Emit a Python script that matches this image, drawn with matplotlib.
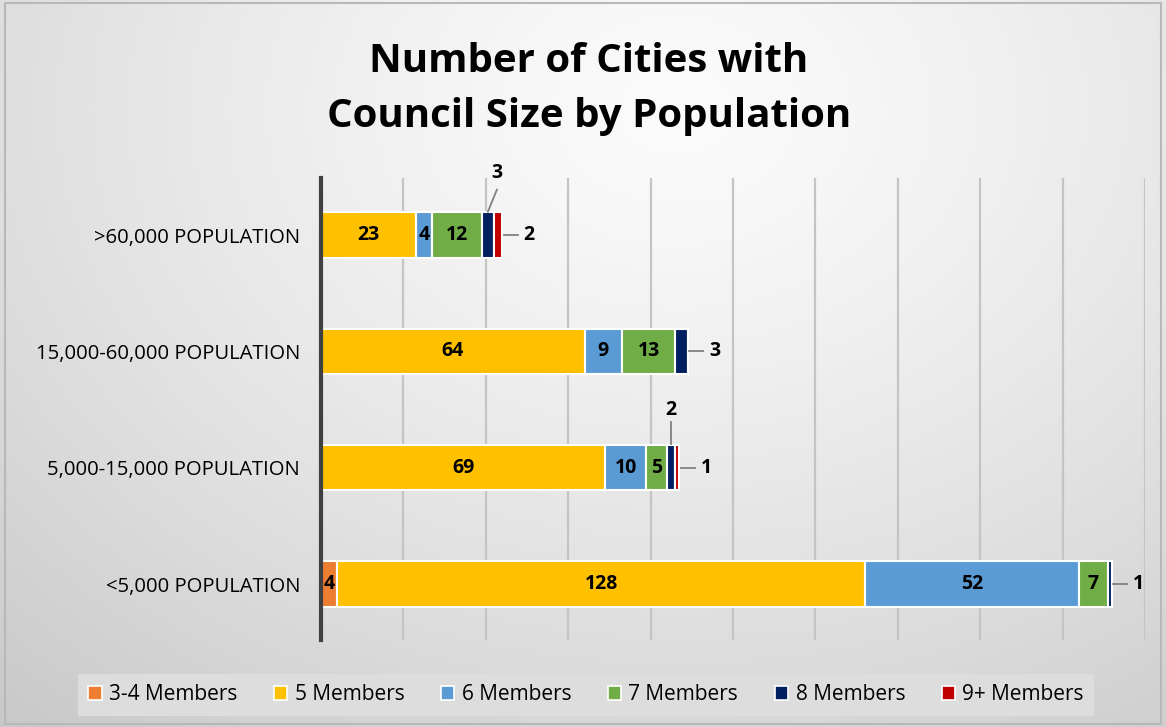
import numpy as np
import matplotlib
matplotlib.use("Agg")
import matplotlib.pyplot as plt

categories = [">60,000 POPULATION", "15,000-60,000 POPULATION", "5,000-15,000 POPULATION", "<5,000 POPULATION"]
series_names = ["3-4 Members", "5 Members", "6 Members", "7 Members", "8 Members", "9+ Members"]
m34 = [0, 0, 0, 4]
m5 = [23, 64, 69, 128]
m6 = [4, 9, 10, 52]
m7 = [12, 13, 5, 7]
m8 = [3, 3, 2, 1]
m9 = [2, 0, 1, 0]
colors = ["#ED7D31", "#FFC000", "#5B9BD5", "#70AD47", "#002060", "#C00000"]
title = "Number of Cities with\nCouncil Size by Population"

series = [m34, m5, m6, m7, m8, m9]

plt.rcParams['font.family'] = ['Open Sans', 'DejaVu Sans']

fig = plt.figure(figsize=(11.66, 7.27), dpi=100)

# background radial gradient
bg = fig.add_axes([0, 0, 1, 1], zorder=-10)
H, W = 727, 1166
yy, xx = np.mgrid[0:H, 0:W]
cx, cy = 0.58 * W, 0.15 * H
r = np.sqrt(((xx - cx) / W) ** 2 + ((yy - cy) / H * 0.8) ** 2)
r = r / r.max()
v = 0.985 - 0.2 * r ** 1.3
img = np.dstack([v, v, v])
bg.imshow(img, aspect='auto', extent=[0, 1, 0, 1], origin='upper')
bg.plot([0.004, 0.996, 0.996, 0.004, 0.004], [0.004, 0.004, 0.996, 0.996, 0.004], color="#b8b8b8", lw=1.5)
bg.set_xlim(0, 1); bg.set_ylim(0, 1)
bg.axis('off')

ax = fig.add_axes([321 / W, 1 - 640 / H, (1145 - 321) / W, (640 - 178) / H])
ax.set_facecolor('none')
y = np.arange(len(categories))
left = np.zeros(len(categories))
bars_all = []
for name, vals, c in zip(series_names, series, colors):
    vals = np.array(vals, dtype=float)
    ax.barh(y, vals, left=left, height=0.39, color=c, edgecolor='white', linewidth=1.5, label=name, zorder=3)
    bars_all.append((vals, left.copy()))
    left = left + vals

ax.set_xlim(0, 200)
ax.set_ylim(3.48, -0.49)
ax.set_xticks(np.arange(20, 201, 20))
ax.set_xticklabels([])
ax.tick_params(axis='x', length=0)
ax.grid(axis='x', color='#c4c4c4', lw=1.6, zorder=0)
ax.set_yticks(y)
ax.set_yticklabels(categories, fontsize=14.6)
ax.tick_params(axis='y', length=0, pad=15)
for s in ['top', 'right', 'bottom']:
    ax.spines[s].set_visible(False)
ax.spines['left'].set_color('#404040')
ax.spines['left'].set_linewidth(3)
ax.spines['left'].set_zorder(5)

lab_kw = dict(fontsize=14, fontweight='bold', color='black', zorder=6)
# labels inside
for si, (vals, lefts) in enumerate(bars_all):
    for i in range(len(categories)):
        v_ = vals[i]
        if v_ <= 0:
            continue
        xc = lefts[i] + v_ / 2
        if v_ >= 4:
            ax.text(xc, y[i], f"{int(v_)}", ha='center', va='center', **lab_kw)

# outside labels with leader lines
def right_label(i, si):
    vals, lefts = bars_all[si]
    xe = lefts[i] + vals[i]
    ax.plot([xe + 0.3, xe + 3.7], [y[i], y[i]], color='#808080', lw=1.3, zorder=6, clip_on=False)
    ax.text(xe + 6.5, y[i], f"{int(vals[i])}", ha='center', va='center', **lab_kw)

def top_label(i, si, dx, dy_txt):
    vals, lefts = bars_all[si]
    xc = lefts[i] + vals[i] / 2
    ax.plot([xc, xc + dx], [y[i] - 0.2, y[i] - 0.39], color='#808080', lw=1.3, zorder=6, clip_on=False)
    ax.text(xc + dx, y[i] - dy_txt, f"{int(vals[i])}", ha='center', va='center', **lab_kw)

top_label(0, 4, 2.2, 0.53)
right_label(0, 5)
right_label(1, 4)
top_label(2, 4, 0.0, 0.5)
right_label(2, 5)
right_label(3, 4)

fig.text(0.505, 1 - 89 / H, title, ha='center', va='center', fontsize=29, fontweight='bold', linespacing=1.5)

# legend
handles, labels = ax.get_legend_handles_labels()
leg = fig.legend(handles, labels, loc='center', bbox_to_anchor=(586 / W, 1 - 695 / H), ncol=6,
                 fontsize=15, frameon=True, fancybox=False, handlelength=0.65, handleheight=0.65,
                 columnspacing=1.75, handletextpad=0.35, borderpad=0.5)
leg.get_frame().set_facecolor('#dddddd')
leg.get_frame().set_edgecolor('none')
leg.get_frame().set_alpha(1)
for h in leg.legend_handles:
    h.set_edgecolor('white')
    h.set_linewidth(1.2)

fig.savefig("out.png", dpi=100)
